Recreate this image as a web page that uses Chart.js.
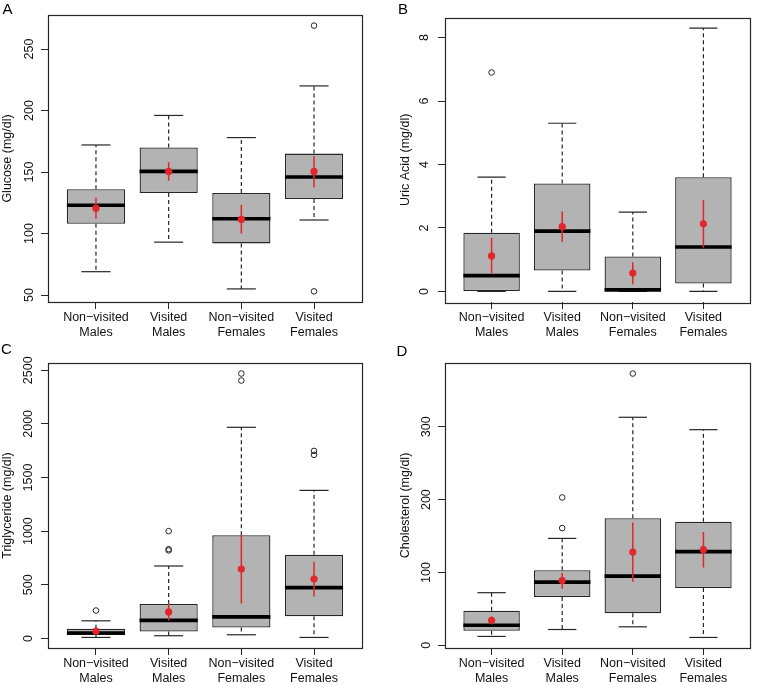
<!DOCTYPE html>
<html>
<head>
<meta charset="utf-8">
<script src="https://cdn.jsdelivr.net/npm/chart.js@4.4.0/dist/chart.umd.min.js"></script>
<style>
  body { margin: 0; background: #fff; }
  #wrap { position: relative; width: 762px; height: 685px; overflow: hidden; }
  canvas { position: absolute; }
  .tag { position: absolute; font: 15px "Liberation Sans", Arial, sans-serif; line-height: 1; color: #000; }
</style>
</head>
<body>
<div id="wrap">
  <canvas id="panelA" width="381" height="340" style="left:0;top:0"></canvas>
  <canvas id="panelB" width="381" height="340" style="left:381px;top:0"></canvas>
  <canvas id="panelC" width="381" height="345" style="left:0;top:340px"></canvas>
  <canvas id="panelD" width="381" height="345" style="left:381px;top:340px"></canvas>
  <div class="tag" style="left:2.5px;top:0.7px">A</div>
  <div class="tag" style="left:398px;top:0.7px">B</div>
  <div class="tag" style="left:1px;top:341.3px">C</div>
  <div class="tag" style="left:396.5px;top:343px">D</div>
</div>
<script>
const groups = [["Non\u2212visited", "Males"], ["Visited", "Males"], ["Non\u2212visited", "Females"], ["Visited", "Females"]];
const groupPos = [1, 2, 3, 4];

// per group: lower whisker, Q1, median, Q3, upper whisker
const glucoseBox = [[69, 108, 123, 136, 172], [93, 133, 150.5, 170, 196], [55, 92, 112, 133, 178], [111, 128, 146, 165, 220]];
const glucoseMean = [120.5, 150.5, 111.5, 150.5];
const glucoseErr = [[112, 129], [143, 158], [100, 123.5], [137.5, 163]];
const glucoseOut = [[], [], [], [269, 53]];
const glucoseTicks = [50, 100, 150, 200, 250];

const uricBox = [[0, 0, 0.5, 1.85, 3.6], [0, 0.66, 1.9, 3.4, 5.3], [0, 0, 0.05, 1.1, 2.5], [0, 0.25, 1.4, 3.6, 8.3]];
const uricMean = [1.12, 2.04, 0.58, 2.13];
const uricErr = [[0.57, 1.69], [1.56, 2.52], [0.23, 0.92], [1.38, 2.88]];
const uricOut = [[6.9], [], [], []];
const uricTicks = [0, 2, 4, 6, 8];

const trigBox = [[9, 31, 50, 90, 164], [25, 65, 168, 321, 675], [34, 102, 201, 962, 1968], [9, 207, 473, 780, 1380]];
const trigMean = [67, 247, 647, 554];
const trigErr = [[45, 88], [167, 328], [325, 962], [390, 715]];
const trigOut = [[260], [1000, 832, 820], [2469, 2404], [1748, 1711]];
const trigTicks = [0, 500, 1000, 1500, 2000, 2500];

const cholBox = [[12.3, 20, 27.7, 47.7, 72.3], [21.8, 66.4, 86.8, 103.2, 146.8], [25.5, 44, 95, 174.5, 313], [10.9, 78.6, 128.6, 169.5, 296]];
const cholMean = [34.5, 89, 128, 131.4];
const cholErr = [[29, 39.5], [77.7, 99.5], [87.3, 168.6], [106.8, 155.5]];
const cholOut = [[], [203, 161], [373], []];
const cholTicks = [0, 100, 200, 300];

const FONT = '"Liberation Sans", Arial, Helvetica, sans-serif';
Chart.defaults.font.family = FONT;
Chart.defaults.color = "#111";

const red = "#e3262b";
const ink = "#262626";

function halfWidth(ctx, w) {
  const s = ctx.chart.scales.x;
  if (!s) return 0;
  return Math.abs(s.getPixelForValue(1 + w) - s.getPixelForValue(1));
}

const framePlugin = {
  id: "frame",
  afterDraw(chart) {
    const a = chart.chartArea, c = chart.ctx;
    c.save();
    c.strokeStyle = ink;
    c.lineWidth = 1.2;
    c.strokeRect(Math.round(a.left) + 0.5, Math.round(a.top) + 0.5, Math.round(a.right - a.left), Math.round(a.bottom - a.top));
    c.restore();
  }
};

function makePanel(id, title, box, mean, err, out, ticks, lay) {
  const all = box.flat().concat(out.flat());
  const lo = Math.min(...all), hi = Math.max(...all);
  const pad = (hi - lo) * 0.04;

  const whiskers = box.flatMap((b, i) => [
    { x: groupPos[i], y: b[3] }, { x: groupPos[i], y: b[4] }, { x: groupPos[i], y: null },
    { x: groupPos[i], y: b[1] }, { x: groupPos[i], y: b[0] }, { x: groupPos[i], y: null }
  ]);
  const caps = box.flatMap((b, i) => [{ x: groupPos[i], y: b[0] }, { x: groupPos[i], y: b[4] }]);
  const errLines = err.flatMap((e, i) => [{ x: groupPos[i], y: e[0] }, { x: groupPos[i], y: e[1] }, { x: groupPos[i], y: null }]);
  const outliers = out.flatMap((o, i) => o.map(v => ({ x: groupPos[i], y: v })));

  new Chart(document.getElementById(id), {
    type: "bar",
    data: {
      datasets: [
        {
          type: "scatter", data: mean.map((m, i) => ({ x: groupPos[i], y: m })),
          pointRadius: 3.6, backgroundColor: red, borderColor: red, borderWidth: 0
        },
        {
          type: "line", data: errLines, borderColor: red, borderWidth: 1.5,
          pointRadius: 0, spanGaps: false, tension: 0
        },
        {
          type: "scatter", data: box.map((b, i) => ({ x: groupPos[i], y: b[2] })),
          pointStyle: "line", pointRadius: ctx => halfWidth(ctx, 0.4),
          borderColor: "#000", borderWidth: 3.6
        },
        {
          type: "scatter", data: outliers, pointRadius: 2.8,
          backgroundColor: "rgba(0,0,0,0)", borderColor: ink, borderWidth: 1
        },
        {
          type: "scatter", data: caps, pointStyle: "line",
          pointRadius: ctx => halfWidth(ctx, 0.2), borderColor: ink, borderWidth: 1.2
        },
        {
          type: "line", data: whiskers, borderColor: ink, borderWidth: 1.2, borderDash: [4, 3],
          pointRadius: 0, spanGaps: false, tension: 0
        },
        {
          type: "bar", data: box.map((b, i) => ({ x: groupPos[i], y: [b[1], b[3]] })),
          backgroundColor: "#b3b3b3", borderColor: ink, borderWidth: 1.3, borderSkipped: false,
          barPercentage: 0.8, categoryPercentage: 1, grouped: false
        }
      ]
    },
    options: {
      responsive: false,
      animation: false,
      events: [],
      layout: { padding: lay.padding },
      plugins: { legend: { display: false }, tooltip: { enabled: false } },
      scales: {
        x: {
          type: "linear", min: 0.34, max: 4.66, offset: false,
          afterBuildTicks: s => { s.ticks = groupPos.map(v => ({ value: v })); },
          afterFit: s => { s.height = lay.xH; },
          ticks: {
            callback: (v, i) => groups[i], autoSkip: false, maxRotation: 0, minRotation: 0,
            padding: 1, color: "#111", font: { size: 12.5, lineHeight: 1.2 }
          },
          grid: { drawOnChartArea: false, tickLength: 7, color: ink, offset: false },
          border: { display: false }
        },
        y: {
          type: "linear", min: lo - pad, max: hi + pad, beginAtZero: false,
          afterBuildTicks: s => { s.ticks = ticks.map(v => ({ value: v })); },
          afterFit: s => { s.width = lay.yW; },
          ticks: {
            callback: v => String(v),
            minRotation: 90, maxRotation: 90, crossAlign: "center", padding: lay.tickPad,
            color: "#111", font: { size: 12.5 }
          },
          grid: { drawOnChartArea: false, tickLength: 7, color: ink },
          border: { display: false },
          title: { display: true, text: title, color: "#111", font: { size: 12.5 }, padding: 0 }
        }
      }
    },
    plugins: [framePlugin]
  });
}

makePanel("panelA", "Glucose (mg/dl)", glucoseBox, glucoseMean, glucoseErr, glucoseOut, glucoseTicks,
  { padding: { top: 15, right: 19, left: 0, bottom: 0 }, yW: 48, xH: 38, tickPad: 1.5 });
makePanel("panelB", "Uric Acid (mg/dl)", uricBox, uricMean, uricErr, uricOut, uricTicks,
  { padding: { top: 15, right: 12, left: 17, bottom: 0 }, yW: 47, xH: 38, tickPad: 10 });
makePanel("panelC", "Triglyceride (mg/dl)", trigBox, trigMean, trigErr, trigOut, trigTicks,
  { padding: { top: 23, right: 19, left: 0, bottom: 0 }, yW: 48, xH: 37, tickPad: -1 });
makePanel("panelD", "Cholesterol (mg/dl)", cholBox, cholMean, cholErr, cholOut, cholTicks,
  { padding: { top: 23, right: 12, left: 17, bottom: 0 }, yW: 47, xH: 37, tickPad: 1 });
</script>
</body>
</html>
